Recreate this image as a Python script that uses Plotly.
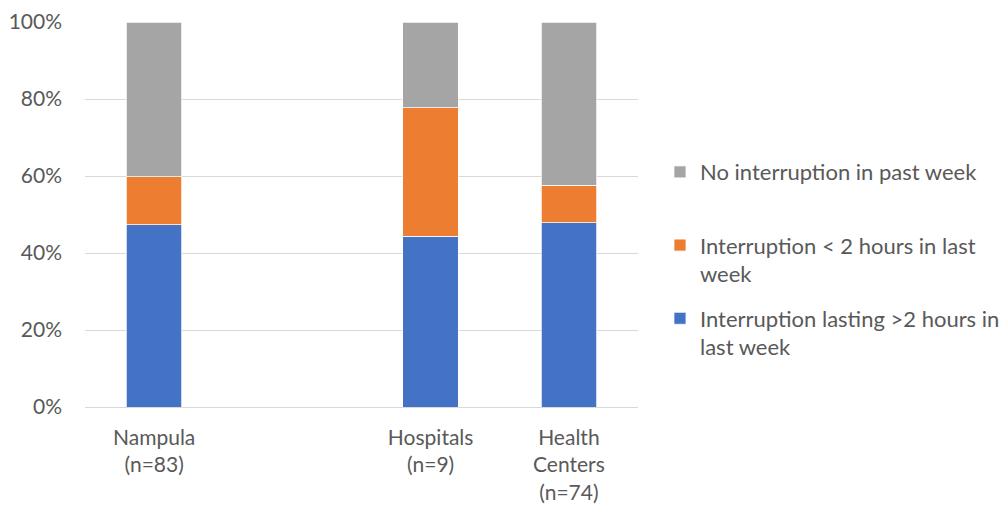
import plotly.graph_objects as go

# Categories (an empty slot separates the province total from its facility types)
categories = ["Nampula<br>(n=83)", " ", "Hospitals<br>(n=9)", "Health<br>Centers<br>(n=74)"]

# Share of facilities by electricity interruption status
long_interruption = [0.474, None, 0.444, 0.479]
short_interruption = [0.124, None, 0.333, 0.097]
no_interruption = [0.402, None, 0.223, 0.424]

# (legend label, values, colour, legend position)
series = [
    ("Interruption lasting &gt;2 hours in<br>last week", long_interruption, "#4472C4", 3),
    ("Interruption &lt; 2 hours in last<br>week", short_interruption, "#ED7D31", 2),
    ("No interruption in past week<br> ", no_interruption, "#A5A5A5", 1),
]

font_family = "Lato, 'Noto Sans', sans-serif"
text_color = "#595959"

fig = go.Figure()
for i, (name, vals, color, rank) in enumerate(series):
    fig.add_trace(go.Bar(
        x=categories,
        y=vals,
        name=name,
        marker=dict(color=color, line=dict(color="white", width=0.75)),
        legendgroup=f"g{i}",
        legendrank=rank,
    ))

fig.update_layout(
    barmode="stack",
    bargap=0.6,
    width=1003,
    height=507,
    margin=dict(l=85, r=365, t=22, b=100),
    paper_bgcolor="white",
    plot_bgcolor="white",
    font=dict(family=font_family, size=21, color=text_color),
    legend=dict(
        traceorder="grouped",
        tracegroupgap=13,
        xref="container",
        x=0.658,
        xanchor="left",
        yref="container",
        y=0.702,
        yanchor="top",
        valign="top",
        font=dict(family=font_family, size=22, color=text_color),
        itemwidth=30,
    ),
    xaxis=dict(
        type="category",
        categoryorder="array",
        categoryarray=categories,
        range=[-0.5, 3.5],
        automargin=False,
        showgrid=False,
        showline=False,
        ticks="",
        ticklabelstandoff=16,
        tickfont=dict(family=font_family, size=21, color=text_color),
    ),
    yaxis=dict(
        range=[0, 1],
        dtick=0.2,
        tickformat=".0%",
        automargin=False,
        showgrid=True,
        gridcolor="#D9D9D9",
        gridwidth=1,
        zeroline=True,
        zerolinecolor="#D9D9D9",
        zerolinewidth=1,
        showline=False,
        ticks="",
        ticklabelstandoff=22,
        tickfont=dict(family=font_family, size=21, color=text_color),
    ),
)

fig.write_html("out.html")
